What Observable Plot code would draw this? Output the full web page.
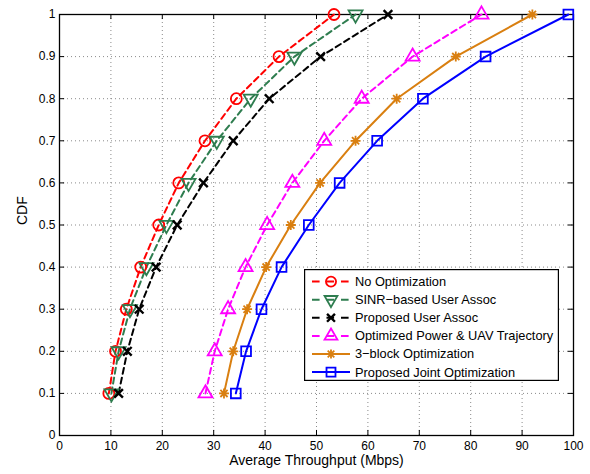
<!DOCTYPE html>
<html><head><meta charset="utf-8">
<script src="https://cdn.jsdelivr.net/npm/d3@7"></script>
<script src="https://cdn.jsdelivr.net/npm/@observablehq/plot@0.6"></script>
<style>
body{margin:0;background:#fff;font-family:"Liberation Sans",Arial,sans-serif;}
#wrap{position:relative;width:590px;height:474px;}
#legend{position:absolute;left:304px;top:269px;}
</style></head><body><div id="wrap"></div>
<script>
// ---- data ----
const cdfLevels = [0.1, 0.2, 0.3, 0.4, 0.5, 0.6, 0.7, 0.8, 0.9, 1.0];
const noOptimization   = [9.6, 10.9, 13.0, 15.8, 19.3, 23.2, 28.3, 34.4, 42.7, 53.4];
const sinrUserAssoc    = [10.1, 11.5, 13.7, 16.9, 20.8, 25.1, 30.6, 37.2, 45.7, 57.6];
const proposedUserAssoc= [11.5, 13.2, 15.5, 18.8, 22.9, 28.0, 33.8, 40.8, 50.8, 63.9];
const optPowerTraj     = [28.4, 30.2, 32.8, 36.2, 40.4, 45.3, 51.5, 58.8, 68.7, 82.1];
const threeBlock       = [32.0, 33.8, 36.5, 40.2, 45.0, 50.7, 57.6, 65.6, 77.1, 92.0];
const jointOpt         = [34.3, 36.3, 39.3, 43.2, 48.5, 54.5, 61.8, 70.7, 82.9, 99.0];
const seriesNames = ["No Optimization", "SINR\u2212based User Assoc", "Proposed User Assoc",
  "Optimized Power & UAV Trajectory", "3\u2212block Optimization", "Proposed Joint Optimization"];
const xTicks = [0, 10, 20, 30, 40, 50, 60, 70, 80, 90, 100];
const xTickLabels = ["0","10","20","30","40","50","60","70","80","90","100"];
const yTicks = [0, 0.1, 0.2, 0.3, 0.4, 0.5, 0.6, 0.7, 0.8, 0.9, 1];
const yTickLabels = ["0","0.1","0.2","0.3","0.4","0.5","0.6","0.7","0.8","0.9","1"];
const xLabel = "Average Throughput (Mbps)";
const yLabel = "CDF";

// ---- custom symbols ----
const triangleDown = {
  draw(context, size) {
    const y = -Math.sqrt(size / (Math.sqrt(3) * 3));
    context.moveTo(0, -y * 2);
    context.lineTo(-Math.sqrt(3) * y, y);
    context.lineTo(Math.sqrt(3) * y, y);
    context.closePath();
  }
};
const star8 = {
  draw(context, size) {
    const r = Math.sqrt(size / Math.PI);
    const d = r * 0.72;
    context.moveTo(-r, 0); context.lineTo(r, 0);
    context.moveTo(0, -r); context.lineTo(0, r);
    context.moveTo(-d, -d); context.lineTo(d, d);
    context.moveTo(-d, d); context.lineTo(d, -d);
  }
};
const styles = [
  {color: "#ff0000", dash: "6,4", symbol: "circle",     r: 5.5, sw: 1.8},
  {color: "#2e7d4f", dash: "6,4", symbol: triangleDown, r: 5.2, sw: 1.8},
  {color: "#000000", dash: "6,4", symbol: "times",      r: 4.0, sw: 2.4},
  {color: "#ff00ff", dash: "6,4", symbol: "triangle",   r: 5.2, sw: 1.8},
  {color: "#d97f10", dash: null,  symbol: star8,        r: 5.0, sw: 1.8},
  {color: "#0000ff", dash: null,  symbol: "square",     r: 5.5, sw: 1.8}
];
const allValues = [noOptimization, sinrUserAssoc, proposedUserAssoc, optPowerTraj, threeBlock, jointOpt];
const rows = allValues.map(vals => vals.map((v, i) => ({x: v, y: cdfLevels[i]})));

const seriesMarks = [];
rows.forEach((data, k) => {
  const s = styles[k];
  seriesMarks.push(Plot.line(data, {x: "x", y: "y", stroke: s.color, strokeWidth: 2, strokeDasharray: s.dash}));
});
rows.forEach((data, k) => {
  const s = styles[k];
  seriesMarks.push(Plot.dot(data, {x: "x", y: "y", symbol: () => s.symbol, r: s.r, stroke: s.color, fill: "none", strokeWidth: s.sw}));
});

const chart = Plot.plot({
  width: 590, height: 474,
  marginLeft: 59, marginRight: 17, marginTop: 14, marginBottom: 39,
  x: {domain: [0, 100]},
  y: {domain: [0, 1]},
  symbol: {type: "identity"},
  style: {fontFamily: "Liberation Sans, Arial, sans-serif", fontSize: "12px", color: "black", background: "white", overflow: "visible"},
  marks: [
    Plot.gridX(xTicks, {stroke: "#8a8a8a", strokeOpacity: 1, strokeDasharray: "1,3", strokeWidth: 1}),
    Plot.gridY(yTicks, {stroke: "#8a8a8a", strokeOpacity: 1, strokeDasharray: "1,3", strokeWidth: 1}),
    Plot.ruleX(xTicks, {x: d => d, y1: 0, y2: 0.012, stroke: "black"}),
    Plot.ruleX(xTicks, {x: d => d, y1: 0.988, y2: 1, stroke: "black"}),
    Plot.ruleY(yTicks, {y: d => d, x1: 0, x2: 1, stroke: "black"}),
    Plot.ruleY(yTicks, {y: d => d, x1: 99, x2: 100, stroke: "black"}),
    Plot.axisX(xTicks, {tickSize: 0, tickPadding: 6, tickFormat: (d, i) => xTickLabels[i], label: null, fontSize: 12}),
    Plot.axisY(yTicks, {tickSize: 0, tickPadding: 4, tickFormat: (d, i) => yTickLabels[i], label: null, fontSize: 12}),
    Plot.frame({stroke: "black", strokeWidth: 1.3}),
    Plot.text([xLabel], {frameAnchor: "bottom", dy: 29, fontSize: 14, text: d => d}),
    Plot.text([yLabel], {frameAnchor: "left", dx: -37, rotate: -90, fontSize: 14, text: d => d}),
    ...seriesMarks
  ]
});
document.getElementById("wrap").appendChild(chart);

// ---- legend ----
const lw = 255, lh = 112, rowH = 18.1, row0 = 12.6;
const leg = d3.select("#wrap").append("svg").attr("id", "legend")
  .attr("width", lw).attr("height", lh);
leg.append("rect").attr("x", 0.6).attr("y", 0.6).attr("width", lw - 1.2).attr("height", lh - 1.2)
  .attr("fill", "white").attr("stroke", "black").attr("stroke-width", 1.2);
const symMap = {circle: d3.symbolCircle, times: d3.symbolTimes, triangle: d3.symbolTriangle, square: d3.symbolSquare};
seriesNames.forEach((name, k) => {
  const s = styles[k];
  const y = row0 + k * rowH;
  leg.append("line").attr("x1", 8).attr("x2", 46).attr("y1", y).attr("y2", y)
    .attr("stroke", s.color).attr("stroke-width", 2).attr("stroke-dasharray", s.dash ? "7.6,6.9" : null);
  const type = typeof s.symbol === "string" ? symMap[s.symbol] : s.symbol;
  const rr = s.r * 0.92;
  leg.append("path").attr("d", d3.symbol(type, Math.PI * rr * rr)())
    .attr("transform", `translate(27,${y})`).attr("fill", "none").attr("stroke", s.color).attr("stroke-width", s.sw);
  leg.append("text").attr("x", 51).attr("y", y).attr("dy", "0.35em")
    .attr("font-size", 12.8).attr("font-family", "Liberation Sans, Arial, sans-serif").text(name);
});
</script></body></html>
